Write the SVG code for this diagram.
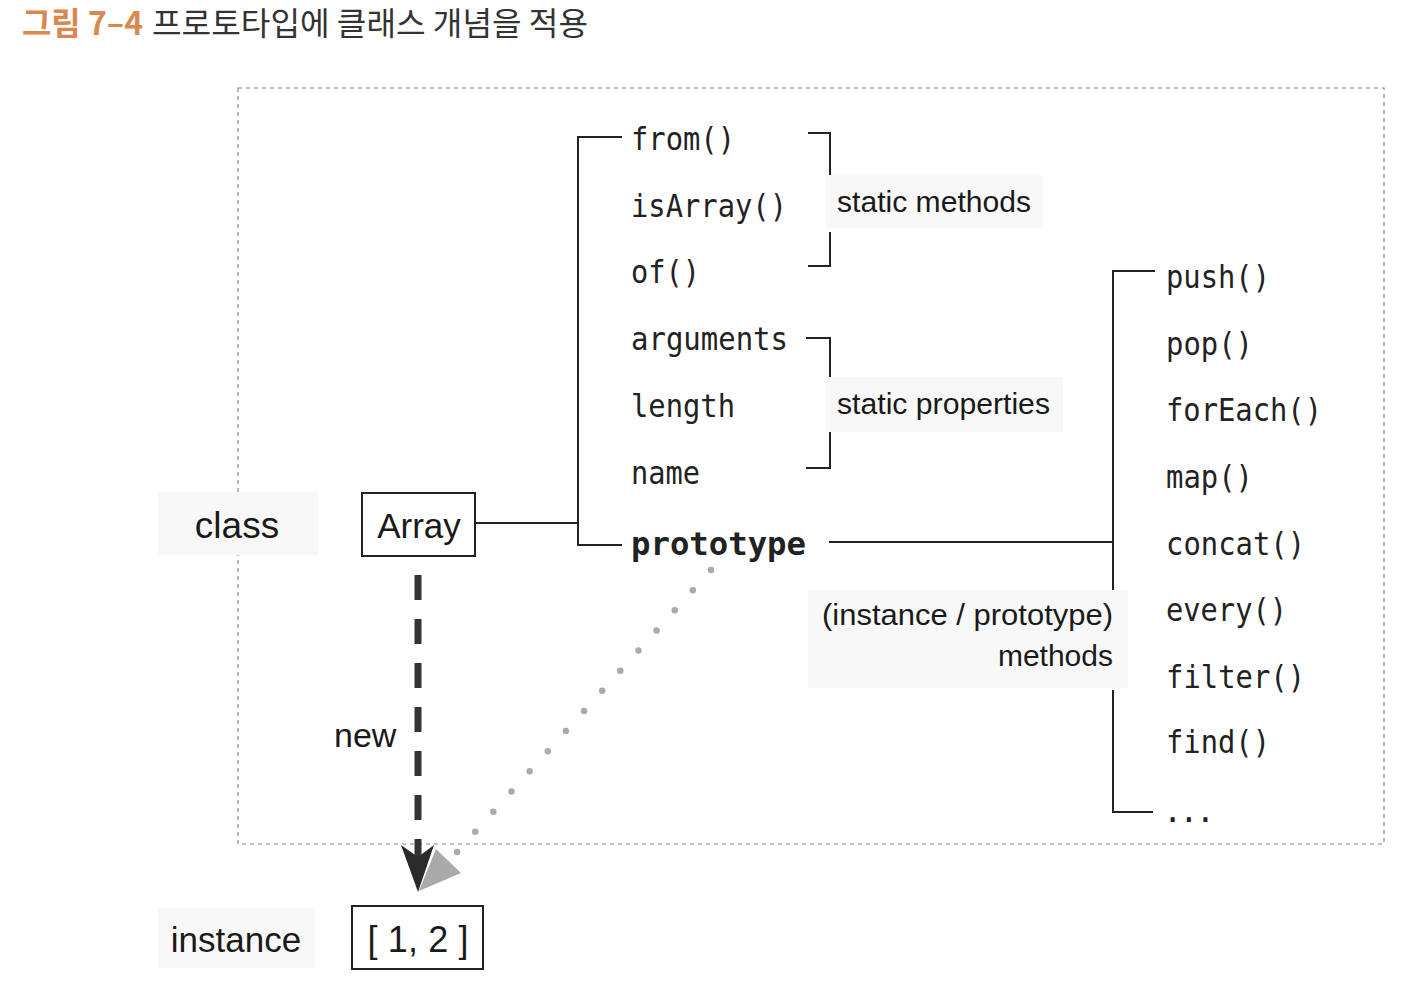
<svg xmlns="http://www.w3.org/2000/svg" width="1410" height="999" viewBox="0 0 1410 999">
<style>
.mono{font-family:"DejaVu Sans Mono","Liberation Mono",monospace;font-size:32px;fill:#222}
.sans{font-family:"Liberation Sans",Arial,sans-serif;fill:#1a1a1a}
.lbl{font-size:30px}
.bg{fill:#f8f8f8}
.ln{fill:none;stroke:#222;stroke-width:2}
.box{fill:#fff;stroke:#222;stroke-width:2}
</style>
<rect width="1410" height="999" fill="#fff"/>
<g id="title">
<text x="22" y="35" font-family="'Noto Sans CJK KR',sans-serif" font-size="32" font-weight="bold" fill="#d9884f" textLength="121" lengthAdjust="spacingAndGlyphs">그림 7–4</text>
<text x="152" y="35" font-family="'Noto Sans CJK KR',sans-serif" font-size="32" fill="#333" textLength="436" lengthAdjust="spacingAndGlyphs">프로토타입에 클래스 개념을 적용</text>
</g>
<rect id="frame" x="238" y="88" width="1146" height="756" fill="none" stroke="#888" stroke-width="1.2" stroke-dasharray="4 4"/>
<g id="connectors">
<path class="ln" d="M475,523 H578"/>
<path class="ln" d="M622,137 H578 V545 H622"/>
<path class="ln" d="M808,133 H830 V178 M830,232 V266 H808"/>
<path class="ln" d="M806,338 H830 V378 M830,432 V468 H806"/>
<path class="ln" d="M829,542 H1113"/>
<path class="ln" d="M1155,271 H1113 V590 M1113,690 V812 H1153"/>
<line x1="418" y1="575" x2="418" y2="862" stroke="#333" stroke-width="7" stroke-dasharray="25 19"/>
<line x1="711" y1="570" x2="457" y2="852" stroke="#aaa" stroke-width="6.5" stroke-linecap="round" stroke-dasharray="0 27.1"/>
<polygon points="436,849 461,873 419,891" fill="#aaa"/>
<polygon points="401,845 418,857 434,845 418,892" fill="#2a2a2a"/>
</g>
<g id="class-label"><rect class="bg" x="158" y="492" width="160" height="63"/><text class="sans" x="237" y="538" font-size="37" text-anchor="middle">class</text></g>
<g id="array"><rect class="box" x="362" y="493" width="113" height="63"/><text class="sans" x="419" y="538" font-size="35" text-anchor="middle">Array</text></g>
<g id="from"><text class="mono" x="631" y="150" textLength="104" lengthAdjust="spacingAndGlyphs">from()</text></g>
<g id="isArray"><text class="mono" x="631" y="217" textLength="156" lengthAdjust="spacingAndGlyphs">isArray()</text></g>
<g id="of"><text class="mono" x="631" y="283" textLength="69" lengthAdjust="spacingAndGlyphs">of()</text></g>
<g id="arguments"><text class="mono" x="631" y="350" textLength="157" lengthAdjust="spacingAndGlyphs">arguments</text></g>
<g id="length"><text class="mono" x="631" y="417" textLength="104" lengthAdjust="spacingAndGlyphs">length</text></g>
<g id="name"><text class="mono" x="631" y="484" textLength="69" lengthAdjust="spacingAndGlyphs">name</text></g>
<g id="prototype"><text class="mono" x="631" y="555" font-weight="bold" textLength="175" lengthAdjust="spacingAndGlyphs">prototype</text></g>
<g id="static-methods"><rect class="bg" x="826" y="175" width="217" height="53"/><text class="sans lbl" x="837" y="212" textLength="194" lengthAdjust="spacingAndGlyphs">static methods</text></g>
<g id="static-properties"><rect class="bg" x="826" y="377" width="237" height="55"/><text class="sans lbl" x="837" y="414" textLength="213" lengthAdjust="spacingAndGlyphs">static properties</text></g>
<g id="proto-methods"><rect class="bg" x="808" y="590" width="320" height="98"/><text class="sans lbl" x="822" y="625" textLength="291" lengthAdjust="spacingAndGlyphs">(instance / prototype)</text><text class="sans lbl" x="1113" y="666" text-anchor="end">methods</text></g>
<g id="push"><text class="mono" x="1166" y="288" textLength="104" lengthAdjust="spacingAndGlyphs">push()</text></g>
<g id="pop"><text class="mono" x="1166" y="355" textLength="87" lengthAdjust="spacingAndGlyphs">pop()</text></g>
<g id="forEach"><text class="mono" x="1166" y="421" textLength="156" lengthAdjust="spacingAndGlyphs">forEach()</text></g>
<g id="map"><text class="mono" x="1166" y="488" textLength="87" lengthAdjust="spacingAndGlyphs">map()</text></g>
<g id="concat"><text class="mono" x="1166" y="555" textLength="139" lengthAdjust="spacingAndGlyphs">concat()</text></g>
<g id="every"><text class="mono" x="1166" y="621" textLength="121" lengthAdjust="spacingAndGlyphs">every()</text></g>
<g id="filter"><text class="mono" x="1166" y="688" textLength="139" lengthAdjust="spacingAndGlyphs">filter()</text></g>
<g id="find"><text class="mono" x="1166" y="753" textLength="104" lengthAdjust="spacingAndGlyphs">find()</text></g>
<g id="more"><text class="mono" x="1163" y="822" textLength="52" lengthAdjust="spacing">...</text></g>
<g id="new-label"><text class="sans" x="334" y="747" font-size="34">new</text></g>
<g id="instance-label"><rect class="bg" x="158" y="908" width="157" height="60"/><text class="sans" x="236" y="952" font-size="35" text-anchor="middle">instance</text></g>
<g id="instance"><rect class="box" x="352" y="906" width="131" height="63"/><text class="sans" x="418" y="952" font-size="36" text-anchor="middle" textLength="101" lengthAdjust="spacing">[ 1, 2 ]</text></g>
</svg>
